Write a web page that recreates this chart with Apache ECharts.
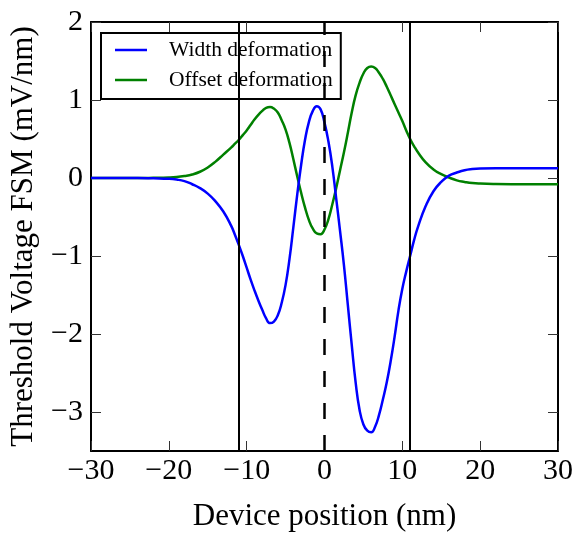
<!DOCTYPE html>
<html>
<head>
<meta charset="utf-8">
<script src="https://cdn.jsdelivr.net/npm/echarts@6/dist/echarts.min.js"></script>
<style>
  html, body { margin: 0; padding: 0; background: #fff; }
  #chart { width: 577px; height: 537px; }
</style>
</head>
<body>
<div id="chart"></div>
<script>
// positions along the device (nm)
const xs = [-30, -28, -26, -24, -22, -20, -19, -18, -17, -16, -15, -14, -13, -12, -11.5, -11, -10.5,
  -10, -9.5, -9, -8.5, -8, -7.5, -7, -6.5, -6, -5.5, -5, -4.5, -4, -3.5, -3, -2.5, -2, -1.5, -1, -0.5,
  0, 0.5, 1, 1.5, 2, 2.5, 3, 3.5, 4, 4.5, 5, 5.5, 6, 6.5, 7, 7.5, 8, 8.5, 9, 9.5, 10,
  10.5, 11, 11.5, 12, 13, 14, 15, 16, 17, 18, 19, 20, 22, 24, 26, 28, 30];

// threshold voltage FSM (mV/nm)
const widthDeformation = [0, 0, 0, 0, -0.004, -0.01, -0.02, -0.04, -0.08, -0.13, -0.2, -0.3, -0.43, -0.61, -0.73, -0.86, -1.0,
  -1.15, -1.3, -1.44, -1.57, -1.69, -1.8, -1.86, -1.84, -1.76, -1.6, -1.37, -1.04, -0.63, -0.21, 0.17, 0.49, 0.72, 0.86, 0.92, 0.88,
  0.71, 0.47, 0.15, -0.26, -0.68, -1.12, -1.63, -2.14, -2.62, -2.97, -3.16, -3.24, -3.26, -3.19, -3.04, -2.84, -2.62, -2.35, -2.04, -1.7, -1.42,
  -1.2, -1.0, -0.8, -0.63, -0.36, -0.17, -0.05, 0.03, 0.07, 0.1, 0.115, 0.122, 0.125, 0.125, 0.125, 0.125, 0.125];

const offsetDeformation = [0, 0, 0, 0, 0.002, 0.006, 0.012, 0.025, 0.045, 0.08, 0.135, 0.21, 0.3, 0.39, 0.44, 0.49, 0.55,
  0.61, 0.68, 0.75, 0.81, 0.86, 0.9, 0.91, 0.89, 0.84, 0.74, 0.62, 0.45, 0.24, 0.02, -0.19, -0.38, -0.54, -0.65, -0.71, -0.72,
  -0.66, -0.53, -0.34, -0.13, 0.1, 0.33, 0.58, 0.84, 1.06, 1.22, 1.34, 1.41, 1.43, 1.41, 1.35, 1.27, 1.17, 1.06, 0.95, 0.84, 0.73,
  0.61, 0.5, 0.41, 0.33, 0.2, 0.11, 0.05, 0.005, -0.03, -0.05, -0.065, -0.072, -0.078, -0.08, -0.08, -0.08, -0.08];

const xTicks = [-30, -20, -10, 0, 10, 20, 30];
const yTicks = [-3, -2, -1, 0, 1, 2];
const gateEdges = [-11, 11];
const centerLine = 0;

const font = '"Liberation Serif", "DejaVu Serif", serif';
const minus = (v) => String(v).replace('-', '\u2212');

const frame = { show: true, onZero: false, lineStyle: { color: '#000', width: 2 } };
const tick = { show: true, inside: true, length: 10, lineStyle: { color: '#333', width: 1 } };

const chart = echarts.init(document.getElementById('chart'), null, { renderer: 'canvas' });

chart.setOption({
  animation: false,
  backgroundColor: '#fff',
  grid: { left: 90, right: 19, top: 22, bottom: 84 },
  legend: {
    left: 101,
    top: 33,
    orient: 'vertical',
    backgroundColor: '#fff',
    borderColor: '#000',
    borderWidth: 2,
    borderRadius: 0,
    padding: [6, 8, 8, 14],
    itemGap: 8,
    itemWidth: 32,
    itemHeight: 2.5,
    icon: 'rect',
    textStyle: { fontFamily: font, fontSize: 21.5, color: '#000', lineHeight: 22, padding: [0, 0, 0, 17] },
    data: ['Width deformation', 'Offset deformation']
  },
  xAxis: [
    {
      type: 'value', min: -30, max: 30, interval: 10,
      name: 'Device position (nm)', nameLocation: 'middle', nameGap: 50,
      nameTextStyle: { fontFamily: font, fontSize: 31, color: '#000' },
      axisLine: frame, axisTick: tick, splitLine: { show: false },
      axisLabel: { fontFamily: font, fontSize: 30, color: '#000', margin: 5, formatter: minus, customValues: xTicks }
    },
    {
      type: 'value', position: 'top', min: -30, max: 30, interval: 10,
      axisLine: frame, axisTick: tick, splitLine: { show: false }, axisLabel: { show: false }
    }
  ],
  yAxis: [
    {
      type: 'value', min: -3.5, max: 2,
      name: 'Threshold Voltage FSM (mV/nm)', nameLocation: 'middle', nameGap: 52,
      nameTextStyle: { fontFamily: font, fontSize: 31, color: '#000' },
      axisLine: frame, axisTick: Object.assign({}, tick, { customValues: yTicks }), splitLine: { show: false },
      axisLabel: { fontFamily: font, fontSize: 30, color: '#000', margin: 8, formatter: minus, customValues: yTicks }
    },
    {
      type: 'value', position: 'right', min: -3.5, max: 2,
      axisLine: frame, axisTick: Object.assign({}, tick, { customValues: yTicks }), splitLine: { show: false },
      axisLabel: { show: false, customValues: yTicks }
    }
  ],
  series: [
    {
      name: 'Width deformation',
      type: 'line',
      data: xs.map((x, i) => [x, widthDeformation[i]]),
      showSymbol: false,
      smooth: 0.5,
      color: '#0000ff',
      lineStyle: { width: 2.5, color: '#0000ff' },
      z: 3,
      markLine: {
        silent: true,
        symbol: 'none',
        label: { show: false },
        lineStyle: { color: '#000', width: 2, type: 'solid' },
        data: gateEdges.map((x) => ({ xAxis: x })).concat([
          { xAxis: centerLine, lineStyle: { color: '#000', width: 2.5, type: [16, 16] } }
        ])
      }
    },
    {
      name: 'Offset deformation',
      type: 'line',
      data: xs.map((x, i) => [x, offsetDeformation[i]]),
      showSymbol: false,
      smooth: 0.5,
      color: '#008000',
      lineStyle: { width: 2.5, color: '#008000' },
      z: 2
    }
  ]
});
</script>
</body>
</html>
